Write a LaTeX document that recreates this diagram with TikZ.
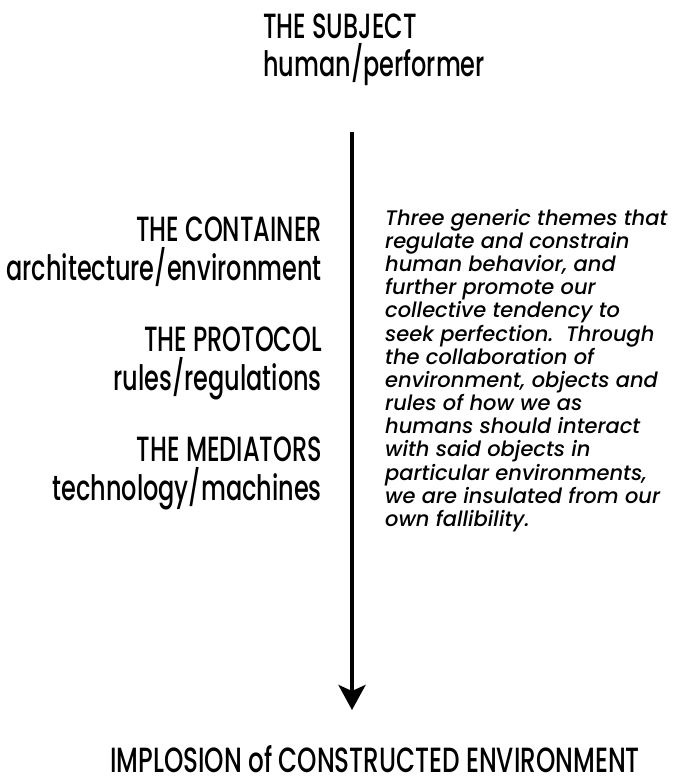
\documentclass[tikz,border=0pt]{standalone}
\usepackage{fontspec}
\usetikzlibrary{arrows.meta}
\newfontfamily\headfont[FakeStretch=0.685]{Poppins Medium}
\newfontfamily\widefont[FakeStretch=0.705]{Poppins Medium}
\newfontfamily\parafont[FakeStretch=1.0]{Poppins Medium}
\tikzset{
  head/.style={inner sep=0pt, font=\headfont\fontsize{35}{39}\selectfont},
  widehead/.style={inner sep=0pt, font=\widefont\fontsize{35}{39}\selectfont},
  para/.style={inner sep=0pt, align=left, font=\parafont\itshape\fontsize{21}{23.15}\selectfont},
  flow/.style={line width=4pt, -{Stealth[length=25pt,width=27pt,inset=6pt]}}
}
\begin{document}
\begin{tikzpicture}[x=1pt,y=1pt]
\useasboundingbox (0,0) rectangle (677,-784);
\node[head, anchor=base west] (subj) at (263,-38) {THE SUBJECT};
\node[head, anchor=base west] (subjs) at (263,-77) {human/performer};
\node[head, anchor=base east] (cont) at (322,-241) {THE CONTAINER};
\node[head, anchor=base east] (conts) at (322,-280) {architecture/environment};
\node[head, anchor=base east] (prot) at (322,-351) {THE PROTOCOL};
\node[head, anchor=base east] (prots) at (322,-390) {rules/regulations};
\node[head, anchor=base east] (med) at (322,-461) {THE MEDIATORS};
\node[head, anchor=base east] (meds) at (322,-500) {technology/machines};
\node[widehead, anchor=base] (impl) at (375,-772) {IMPLOSION of CONSTRUCTED ENVIRONMENT};
\node[para, anchor=north west] (txt) at (385,-209) {Three generic themes that\\
regulate and constrain\\
human behavior, and\\
further promote our\\
collective tendency to\\
seek perfection.\ \ Through\\
the collaboration of\\
environment, objects and\\
rules of how we as\\
humans should interact\\
with said objects in\\
particular environments,\\
we are insulated from our\\
own fallibility.};
\coordinate (atop) at (352,-132);
\coordinate (abot) at (352,-710);
\draw[flow] (atop) -- (abot);
\end{tikzpicture}
\end{document}
